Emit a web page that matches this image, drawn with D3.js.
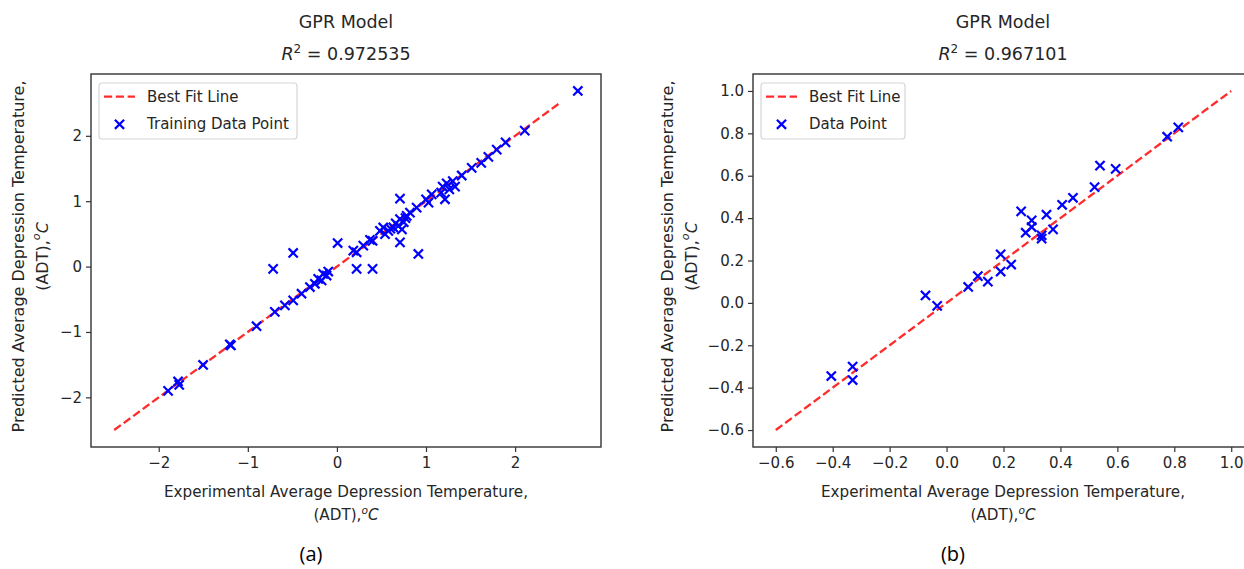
<!DOCTYPE html>
<html><head><meta charset="utf-8">
<script src="https://cdn.jsdelivr.net/npm/d3@7"></script>
<style>
html,body{margin:0;padding:0;background:#fff;overflow:hidden}
svg text{font-family:"DejaVu Sans",sans-serif;fill:#262626}
</style></head><body>
<svg id="c" width="1244" height="569"></svg>
<script>
// ---- data ----
const trainExp  = [-1.895,-1.783,-1.770,-1.502,-1.202,-1.190,-0.902,-0.716,-0.697,-0.584,-0.491,-0.491,-0.397,-0.303,-0.247,-0.210,-0.172,-0.154,-0.116,-0.097,0.008,0.184,0.221,0.221,0.296,0.371,0.400,0.400,0.483,0.520,0.540,0.577,0.600,0.633,0.660,0.689,0.708,0.708,0.708,0.730,0.750,0.770,0.783,0.820,0.895,0.914,1.000,1.028,1.064,1.170,1.187,1.213,1.232,1.262,1.300,1.326,1.401,1.513,1.620,1.700,1.794,1.893,2.108,2.704];
const trainPred = [-1.900,-1.757,-1.810,-1.505,-1.190,-1.205,-0.912,-0.035,-0.693,-0.593,-0.517,0.208,-0.415,-0.313,-0.263,-0.187,-0.212,-0.111,-0.137,-0.076,0.360,0.245,0.219,-0.035,0.320,0.410,0.395,-0.035,0.547,0.598,0.497,0.547,0.580,0.598,0.660,0.623,0.725,1.039,0.371,0.570,0.680,0.740,0.775,0.826,0.902,0.193,1.029,0.979,1.105,1.130,1.222,1.029,1.272,1.181,1.307,1.222,1.393,1.510,1.586,1.678,1.789,1.900,2.080,2.686];
const testExp   = [-0.405,-0.330,-0.330,-0.074,-0.033,0.076,0.110,0.145,0.190,0.190,0.227,0.262,0.278,0.299,0.299,0.334,0.334,0.351,0.374,0.406,0.444,0.520,0.539,0.594,0.775,0.814];
const testPred  = [-0.345,-0.301,-0.364,0.035,-0.014,0.075,0.126,0.100,0.229,0.148,0.181,0.432,0.331,0.389,0.358,0.319,0.303,0.416,0.347,0.463,0.496,0.546,0.648,0.632,0.784,0.828];
const fitLeft   = [-2.5, 2.5];
const fitRight  = [-0.6, 1.0];
const ticksLeft  = [-2, -1, 0, 1, 2];
const ticksRight = [-0.6, -0.4, -0.2, 0.0, 0.2, 0.4, 0.6, 0.8, 1.0];
const titleText   = "GPR Model";
const r2Values    = ["0.972535", "0.967101"];
const fitLabel    = "Best Fit Line";
const pointLabels = ["Training Data Point", "Data Point"];
const panelLabels = ["(a)", "(b)"];
const xLabelLines = ["Experimental Average Depression Temperature,", "(ADT),"];
const yLabelLines = ["Predicted Average Depression Temperature,", "(ADT),"];

const svg = d3.select("#c");
svg.append("rect").attr("width", 1244).attr("height", 569).attr("fill", "#fff");

function padded(vals) {
  const [a, b] = d3.extent(vals);
  const m = (b - a) * 0.05;
  return [a - m, b + m];
}

function unitText(sel, first, fs) {
  sel.append("tspan").text(first);
  sel.append("tspan").attr("font-style", "italic").attr("font-size", fs * 0.7).attr("dy", -fs * 0.38).text("o");
  sel.append("tspan").attr("font-style", "italic").attr("dy", fs * 0.38).text("C");
}

const XMARK = "M-4.6,-4.6L4.6,4.6M-4.6,4.6L4.6,-4.6";
const LABEL_FS = 15.2;

function panel(cfg) {
  const { xs0, xs1, ys0, ys1, ex, pr, fit, ticks, fmt, r2, ptLabel, legW, panelLabel, panelX, ylabX } = cfg;
  const g = svg.append("g");
  const x = d3.scaleLinear().domain(padded(ex.concat(fit))).range([xs0, xs1]);
  const y = d3.scaleLinear().domain(padded(pr.concat(fit))).range([ys1, ys0]);
  const cxAxes = cfg.centerX;

  // fit line
  g.append("path")
    .attr("d", d3.line()(fit.map(v => [x(v), y(v)])))
    .attr("stroke", "#ff2b2b").attr("stroke-width", 2.3)
    .attr("stroke-dasharray", "8.2,3.6").attr("fill", "none");

  // points
  g.selectAll("path.pt").data(ex.map((v, i) => [v, pr[i]])).join("path")
    .attr("class", "pt")
    .attr("transform", d => `translate(${x(d[0])},${y(d[1])})`)
    .attr("d", XMARK)
    .attr("stroke", "#0000ff").attr("stroke-width", 2.2).attr("fill", "none");

  // frame
  g.append("rect").attr("x", xs0).attr("y", ys0).attr("width", xs1 - xs0).attr("height", ys1 - ys0)
    .attr("fill", "none").attr("stroke", "#333").attr("stroke-width", 1.4);

  // axes
  const ax = g.append("g").attr("transform", `translate(0,${ys1})`)
    .call(d3.axisBottom(x).tickValues(ticks).tickFormat(fmt).tickSize(5).tickSizeOuter(0).tickPadding(5));
  const ay = g.append("g").attr("transform", `translate(${xs0},0)`)
    .call(d3.axisLeft(y).tickValues(ticks).tickFormat(fmt).tickSize(5).tickSizeOuter(0).tickPadding(4));
  [ax, ay].forEach(a => {
    a.select(".domain").remove();
    a.selectAll(".tick line").attr("stroke", "#333").attr("stroke-width", 1.2);
    a.selectAll(".tick text").attr("font-size", 15).attr("font-family", "DejaVu Sans").attr("fill", "#262626");
  });

  // titles
  g.append("text").attr("x", cxAxes).attr("y", 28).attr("text-anchor", "middle").attr("font-size", 17.5).text(titleText);
  const t2 = g.append("text").attr("x", cxAxes).attr("y", 60).attr("text-anchor", "middle").attr("font-size", 17.5);
  t2.append("tspan").attr("font-style", "italic").text("R");
  t2.append("tspan").attr("font-size", 12).attr("dy", -7).text("2");
  t2.append("tspan").attr("dy", 7).text(" = " + r2);

  // x label
  g.append("text").attr("x", cxAxes).attr("y", 497).attr("text-anchor", "middle").attr("font-size", LABEL_FS).text(xLabelLines[0]);
  const xl2 = g.append("text").attr("x", cxAxes).attr("y", 520).attr("text-anchor", "middle").attr("font-size", LABEL_FS);
  unitText(xl2, xLabelLines[1], LABEL_FS);

  // y label
  const cy = (ys0 + ys1) / 2 - 4;
  g.append("text").attr("transform", `translate(${ylabX},${cy}) rotate(-90)`).attr("text-anchor", "middle")
    .attr("dominant-baseline", "central").attr("font-size", 16).text(yLabelLines[0]);
  const yl2 = g.append("text").attr("transform", `translate(${ylabX + 24},${cy}) rotate(-90)`).attr("text-anchor", "middle")
    .attr("dominant-baseline", "central").attr("font-size", 16);
  unitText(yl2, yLabelLines[1], 16);

  // legend
  const lx = xs0 + 8, ly = ys0 + 9;
  const lg = g.append("g");
  lg.append("rect").attr("x", lx).attr("y", ly).attr("width", legW).attr("height", 56).attr("rx", 3)
    .attr("fill", "#fff").attr("fill-opacity", 0.8).attr("stroke", "#d6d6d6").attr("stroke-width", 1.2);
  lg.append("line").attr("x1", lx + 5).attr("x2", lx + 36).attr("y1", ly + 13.7).attr("y2", ly + 13.7)
    .attr("stroke", "#ff2b2b").attr("stroke-width", 2.3).attr("stroke-dasharray", "8.2,3.6");
  lg.append("path").attr("transform", `translate(${lx + 20.5},${ly + 41.3})`)
    .attr("d", XMARK).attr("stroke", "#0000ff").attr("stroke-width", 2.2);
  lg.append("text").attr("x", lx + 48).attr("y", ly + 13.7).attr("dominant-baseline", "central").attr("font-size", 15).text(fitLabel);
  lg.append("text").attr("x", lx + 48).attr("y", ly + 41.3).attr("dominant-baseline", "central").attr("font-size", 15).text(ptLabel);

  // panel label
  svg.append("text").attr("x", panelX).attr("y", 561).attr("text-anchor", "middle")
    .attr("font-size", 20).style("font-family", "'Open Sans', sans-serif").style("fill", "#000").text(panelLabel);
}

panel({ xs0: 91, xs1: 601, ys0: 74, ys1: 447, centerX: 346, ex: trainExp, pr: trainPred, fit: fitLeft,
  ticks: ticksLeft, fmt: d3.format("d"), r2: r2Values[0], ptLabel: pointLabels[0], legW: 198,
  panelLabel: panelLabels[0], panelX: 311, ylabX: 18 });
panel({ xs0: 753, xs1: 1254, ys0: 74, ys1: 447, centerX: 1003, ex: testExp, pr: testPred, fit: fitRight,
  ticks: ticksRight, fmt: d3.format(".1f"), r2: r2Values[1], ptLabel: pointLabels[1], legW: 144,
  panelLabel: panelLabels[1], panelX: 953, ylabX: 667 });
</script>
</body></html>
